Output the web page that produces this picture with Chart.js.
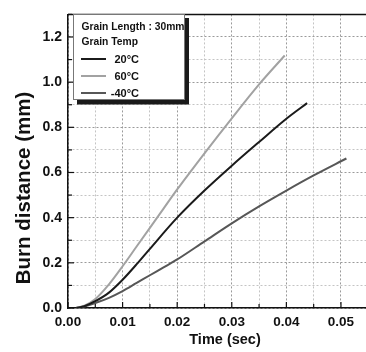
<!DOCTYPE html>
<html>
<head>
<meta charset="utf-8">
<script src="https://cdn.jsdelivr.net/npm/chart.js@4"></script>
<style>
html,body{margin:0;padding:0;background:#fff;overflow:hidden;}
#wrap{position:relative;width:383px;height:352px;}
</style>
</head>
<body>
<div id="wrap"><canvas id="c"></canvas></div>
<script>
// ---- data ----
const seriesLabels = ['20°C', '60°C', '-40°C'];
const time20 = [0.0015, 0.003, 0.005, 0.0075, 0.010, 0.0128, 0.015, 0.020, 0.025, 0.030, 0.035, 0.040, 0.0438];
const dist20 = [0.000, 0.008, 0.030, 0.068, 0.125, 0.200, 0.262, 0.400, 0.520, 0.630, 0.735, 0.838, 0.907];
const time60 = [0.0015, 0.003, 0.005, 0.0075, 0.010, 0.0125, 0.015, 0.0175, 0.020, 0.025, 0.030, 0.035, 0.0397];
const dist60 = [0.000, 0.010, 0.040, 0.105, 0.185, 0.270, 0.355, 0.440, 0.525, 0.685, 0.840, 0.990, 1.118];
const timeM40 = [0.0015, 0.003, 0.005, 0.0075, 0.010, 0.0125, 0.015, 0.0175, 0.020, 0.025, 0.030, 0.035, 0.040, 0.045, 0.051];
const distM40 = [0.000, 0.007, 0.022, 0.045, 0.075, 0.110, 0.145, 0.180, 0.215, 0.295, 0.375, 0.450, 0.520, 0.587, 0.662];
const xTickLabels = ['0.00', '0.01', '0.02', '0.03', '0.04', '0.05'];
const yTickLabels = ['0.0', '0.2', '0.4', '0.6', '0.8', '1.0', '1.2'];
const legendTitle = ['Grain Length : 30mm', 'Grain Temp'];
const xTitle = 'Time (sec)';
const yTitle = 'Burn distance (mm)';

const pts = (xs, ys) => xs.map((x, i) => ({x: x, y: ys[i]}));
const colors = ['#1b1b1b', '#a2a2a2', '#575757'];
const FONT = "'Liberation Sans', Arial, sans-serif";

const isMult = (v, s) => Math.abs(v / s - Math.round(v / s)) < 1e-6;

const decor = {
  id: 'decor',
  afterDatasetsDraw(chart) {
    const ctx = chart.ctx, a = chart.chartArea;
    const xs = chart.scales.x, ys = chart.scales.y;
    ctx.save();
    // frame top line
    ctx.strokeStyle = '#111'; ctx.lineWidth = 1.5;
    ctx.beginPath(); ctx.moveTo(a.left, a.top); ctx.lineTo(a.right, a.top); ctx.stroke();
    // inner ticks
    ctx.lineWidth = 1.2;
    xs.ticks.forEach(t => {
      const px = xs.getPixelForValue(t.value);
      const len = isMult(t.value, 0.01) ? 6 : 4;
      ctx.beginPath(); ctx.moveTo(px, a.bottom); ctx.lineTo(px, a.bottom - len); ctx.stroke();
    });
    ys.ticks.forEach(t => {
      const py = ys.getPixelForValue(t.value);
      const len = isMult(t.value, 0.2) ? 6 : 4;
      ctx.beginPath(); ctx.moveTo(a.left, py); ctx.lineTo(a.left + len, py); ctx.stroke();
    });
    // axis titles
    ctx.fillStyle = '#111';
    ctx.font = "bold 14.5px " + FONT;
    ctx.textAlign = 'center'; ctx.textBaseline = 'middle';
    ctx.fillText(xTitle, 225, 340);
    ctx.save();
    ctx.translate(24, 188); ctx.rotate(-Math.PI / 2);
    ctx.font = "bold 20.5px " + FONT;
    ctx.fillText(yTitle, 0, 0);
    ctx.restore();
    // legend box with shadow
    const bx = 73, by = 14, bw = 111, bh = 85;
    ctx.fillStyle = '#1a1a1a';
    ctx.fillRect(bx + 4, by + 4, bw + 1, bh + 1.5);
    ctx.fillStyle = '#fff';
    ctx.fillRect(bx, by, bw, bh);
    ctx.strokeStyle = '#777'; ctx.lineWidth = 1;
    ctx.strokeRect(bx + 0.5, by + 0.5, bw, bh);
    ctx.fillStyle = '#111';
    ctx.font = "bold 10.3px " + FONT;
    ctx.textAlign = 'left';
    ctx.fillText(legendTitle[0], 81.5, 27);
    ctx.fillText(legendTitle[1], 81.5, 42);
    const rowY = [59, 76, 93];
    chart.data.datasets.forEach((ds, r) => {
      ctx.strokeStyle = ds.borderColor; ctx.lineWidth = 2;
      ctx.beginPath(); ctx.moveTo(81, rowY[r]); ctx.lineTo(106, rowY[r]); ctx.stroke();
      ctx.fillStyle = '#111';
      ctx.textAlign = 'right';
      ctx.font = "bold 11px " + FONT;
      ctx.fillText(ds.label, 139, rowY[r] + 1);
    });
    ctx.restore();
  }
};

new Chart(document.getElementById('c'), {
  type: 'line',
  data: {
    datasets: [
      {label: seriesLabels[0], data: pts(time20, dist20), borderColor: colors[0]},
      {label: seriesLabels[1], data: pts(time60, dist60), borderColor: colors[1]},
      {label: seriesLabels[2], data: pts(timeM40, distM40), borderColor: colors[2]}
    ]
  },
  options: {
    responsive: true,
    maintainAspectRatio: false,
    animation: false,
    layout: {padding: {top: 9, right: 0, left: 0, bottom: 0}},
    elements: {
      line: {borderWidth: 2, cubicInterpolationMode: 'monotone', fill: false},
      point: {radius: 0, hoverRadius: 0}
    },
    plugins: {legend: {display: false}, tooltip: {enabled: false}},
    scales: {
      x: {
        type: 'linear', min: 0, max: 0.0577,
        afterFit: s => { s.height = 44; },
        grid: {
          drawTicks: false,
          color: ctx => isMult(ctx.tick.value, 0.01) ? '#9a9a9a' : '#c4c4c4',
          lineWidth: 1
        },
        border: {display: true, color: '#111', width: 1.5, dash: [2, 2]},
        ticks: {
          stepSize: 0.005, includeBounds: false, padding: 6, maxRotation: 0, autoSkip: false,
          color: '#111', font: {family: FONT, size: 13.5, weight: 'bold'},
          callback: v => isMult(v, 0.01) ? xTickLabels[Math.round(v / 0.01)] : ''
        }
      },
      y: {
        type: 'linear', min: 0, max: 1.3,
        afterFit: s => { s.width = 68; },
        grid: {
          drawTicks: false,
          color: ctx => isMult(ctx.tick.value, 0.2) ? '#9a9a9a' : '#c4c4c4',
          lineWidth: 1
        },
        border: {display: true, color: '#111', width: 1.5, dash: [2, 2]},
        ticks: {
          stepSize: 0.1, includeBounds: false, padding: 6, autoSkip: false,
          color: '#111', font: {family: FONT, size: 14, weight: 'bold'},
          callback: v => isMult(v, 0.2) ? yTickLabels[Math.round(v / 0.2)] : ''
        }
      }
    }
  },
  plugins: [decor]
});
</script>
</body>
</html>
